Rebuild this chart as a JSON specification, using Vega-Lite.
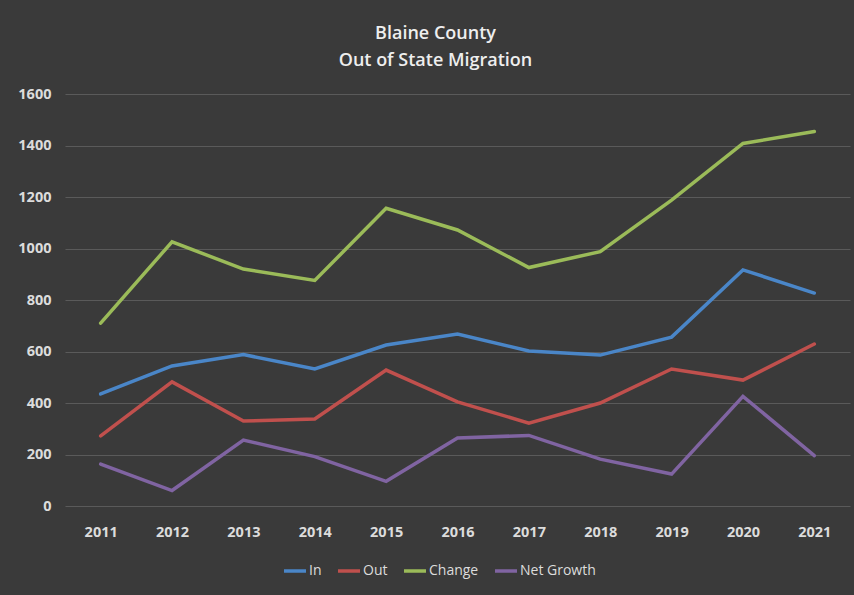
{
  "$schema": "https://vega.github.io/schema/vega-lite/v6.json",
  "width": 785,
  "height": 412,
  "autosize": {"type": "none"},
  "padding": {"left": 65, "top": 94, "right": 4, "bottom": 89},
  "background": "#3a3a3a",
  "config": {
    "view": {"stroke": null},
    "font": "Open Sans"
  },
  "title": {
    "text": ["Blaine County", "Out of State Migration"],
    "anchor": "middle",
    "dx": -22,
    "offset": 16,
    "fontSize": 18,
    "fontWeight": 600,
    "color": "#eeeeee",
    "lineHeight": 27,
    "font": "Open Sans"
  },
  "data": {
    "values": [
      {"year": "2011", "series": "In", "value": 435},
      {"year": "2012", "series": "In", "value": 544},
      {"year": "2013", "series": "In", "value": 588},
      {"year": "2014", "series": "In", "value": 532},
      {"year": "2015", "series": "In", "value": 625},
      {"year": "2016", "series": "In", "value": 668},
      {"year": "2017", "series": "In", "value": 602},
      {"year": "2018", "series": "In", "value": 586},
      {"year": "2019", "series": "In", "value": 656},
      {"year": "2020", "series": "In", "value": 917},
      {"year": "2021", "series": "In", "value": 827},
      {"year": "2011", "series": "Out", "value": 272},
      {"year": "2012", "series": "Out", "value": 482},
      {"year": "2013", "series": "Out", "value": 330},
      {"year": "2014", "series": "Out", "value": 338},
      {"year": "2015", "series": "Out", "value": 528},
      {"year": "2016", "series": "Out", "value": 404},
      {"year": "2017", "series": "Out", "value": 322},
      {"year": "2018", "series": "Out", "value": 400},
      {"year": "2019", "series": "Out", "value": 532},
      {"year": "2020", "series": "Out", "value": 489},
      {"year": "2021", "series": "Out", "value": 629},
      {"year": "2011", "series": "Change", "value": 710},
      {"year": "2012", "series": "Change", "value": 1026},
      {"year": "2013", "series": "Change", "value": 920},
      {"year": "2014", "series": "Change", "value": 876},
      {"year": "2015", "series": "Change", "value": 1156},
      {"year": "2016", "series": "Change", "value": 1072},
      {"year": "2017", "series": "Change", "value": 926},
      {"year": "2018", "series": "Change", "value": 988},
      {"year": "2019", "series": "Change", "value": 1188},
      {"year": "2020", "series": "Change", "value": 1408},
      {"year": "2021", "series": "Change", "value": 1454},
      {"year": "2011", "series": "Net Growth", "value": 163},
      {"year": "2012", "series": "Net Growth", "value": 60},
      {"year": "2013", "series": "Net Growth", "value": 256},
      {"year": "2014", "series": "Net Growth", "value": 192},
      {"year": "2015", "series": "Net Growth", "value": 96},
      {"year": "2016", "series": "Net Growth", "value": 264},
      {"year": "2017", "series": "Net Growth", "value": 274},
      {"year": "2018", "series": "Net Growth", "value": 182},
      {"year": "2019", "series": "Net Growth", "value": 124},
      {"year": "2020", "series": "Net Growth", "value": 426},
      {"year": "2021", "series": "Net Growth", "value": 196}
    ]
  },
  "mark": {"type": "line", "strokeWidth": 3.5, "strokeCap": "round", "strokeJoin": "miter"},
  "encoding": {
    "x": {
      "field": "year",
      "type": "ordinal",
      "scale": {"type": "point", "padding": 0.5},
      "axis": {
        "title": null,
        "labelAngle": 0,
        "labelFontSize": 14.5,
        "labelFontWeight": "bold",
        "labelColor": "#dcdcdc",
        "labelPadding": 19,
        "domain": false,
        "ticks": false,
        "grid": false
      }
    },
    "y": {
      "field": "value",
      "type": "quantitative",
      "scale": {"domain": [0, 1600]},
      "axis": {
        "title": null,
        "format": "d",
        "values": [0, 200, 400, 600, 800, 1000, 1200, 1400, 1600],
        "labelFontSize": 14.5,
        "labelFontWeight": "bold",
        "labelColor": "#dcdcdc",
        "labelPadding": 14,
        "domain": false,
        "ticks": false,
        "grid": true,
        "gridColor": "#5a5a5a",
        "gridWidth": 1
      }
    },
    "color": {
      "field": "series",
      "type": "nominal",
      "sort": ["In", "Out", "Change", "Net Growth"],
      "scale": {
        "domain": ["In", "Out", "Change", "Net Growth"],
        "range": ["#4a86c8", "#c0504d", "#9bbb59", "#8064a2"]
      },
      "legend": {
        "title": null,
        "orient": "none",
        "direction": "horizontal",
        "legendX": 217,
        "legendY": 464,
        "symbolType": "stroke",
        "symbolSize": 484,
        "symbolStrokeWidth": 3.5,
        "labelFontSize": 14,
        "labelColor": "#dcdcdc",
        "labelOffset": 1,
        "columnPadding": 9
      }
    }
  }
}
